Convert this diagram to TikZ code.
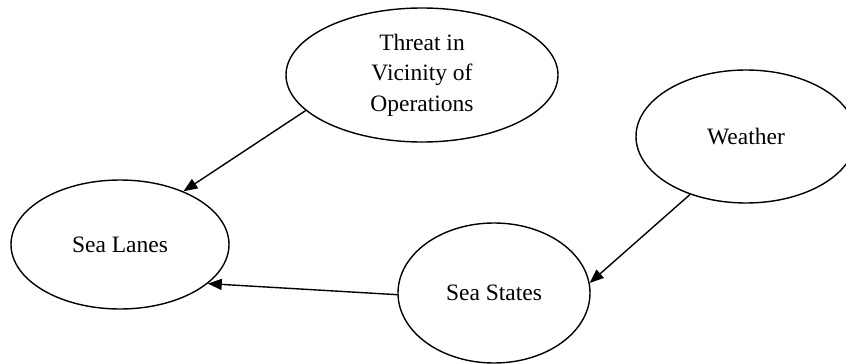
\documentclass[tikz,border=0pt]{standalone}
\usepackage{fontspec}
\setmainfont{Liberation Serif}
\usetikzlibrary{shapes.geometric,arrows.meta}
\begin{document}
\begin{tikzpicture}[x=1pt,y=-1pt,
  concept/.style={ellipse, draw, line width=1.4pt, inner sep=0pt, align=center,
    font=\fontsize{23.5}{30.5}\selectfont},
  link/.style={line width=1.4pt, -{Triangle[length=14pt,width=11pt]}}]
\useasboundingbox (0,0) rectangle (846,364);

% concepts
\node[concept, minimum width=272pt, minimum height=134pt] (threat) at (422,75)
  {Threat in\\Vicinity of\\Operations};
\node[concept, minimum width=220pt, minimum height=133pt] (weather) at (746,136.5) {Weather};
\node[concept, minimum width=218pt, minimum height=129pt] (lanes) at (120,244.5) {Sea Lanes};
\node[concept, minimum width=192pt, minimum height=140pt] (states) at (494,293) {Sea States};

% influences
\draw[link] (threat.197) -- (lanes.40);
\draw[link] (weather.226) -- (states.6);
\draw[link] (states.181) -- (lanes.336);
\end{tikzpicture}
\end{document}
